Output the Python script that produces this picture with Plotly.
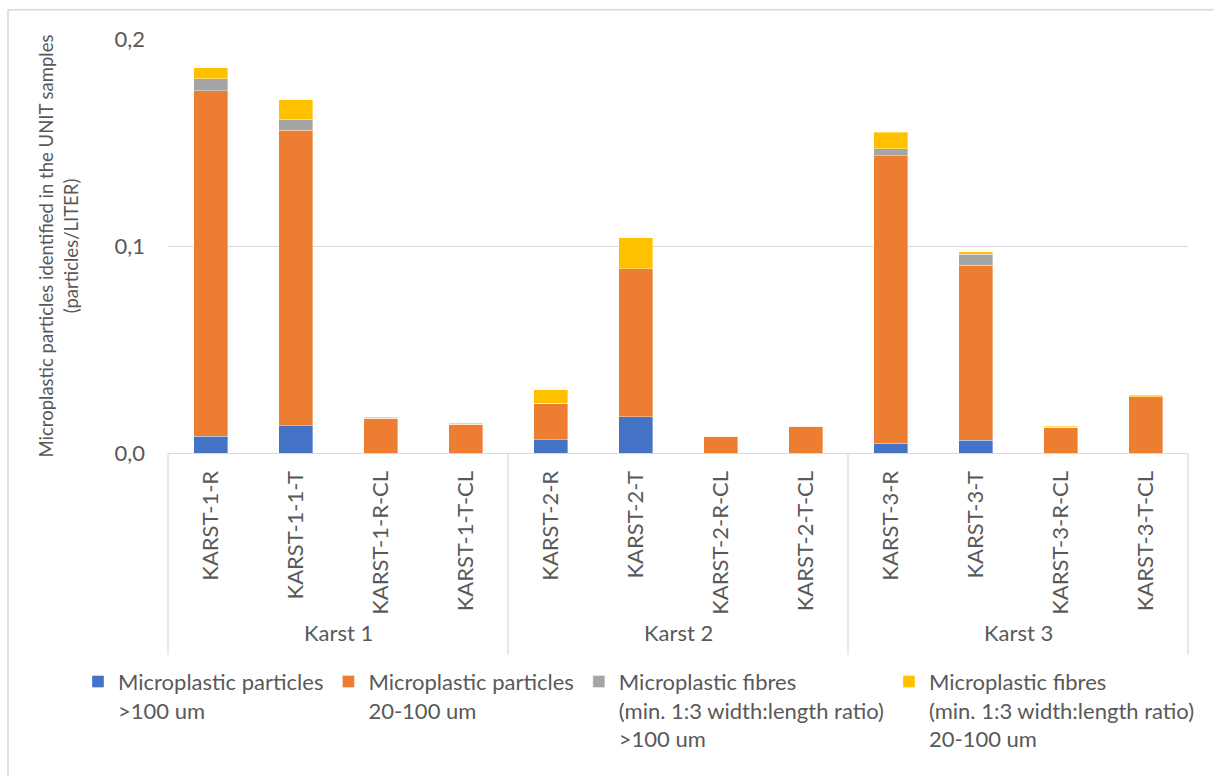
import plotly.graph_objects as go

# Sample groups and sample names
group_names = ["Karst 1", "Karst 2", "Karst 3"]
samples = [
    "KARST-1-R", "KARST-1-1-T", "KARST-1-R-CL", "KARST-1-T-CL",
    "KARST-2-R", "KARST-2-T", "KARST-2-R-CL", "KARST-2-T-CL",
    "KARST-3-R", "KARST-3-T", "KARST-3-R-CL", "KARST-3-T-CL",
]

# Concentrations (particles/LITER)
particles_gt100 = [0.0080, 0.0132, 0.0, 0.0, 0.0063, 0.0174, 0.0, 0.0, 0.0046, 0.0061, 0.0, 0.0]
particles_20_100 = [0.1669, 0.1427, 0.0169, 0.0140, 0.0177, 0.0716, 0.0082, 0.0130, 0.1391, 0.0845, 0.0124, 0.0272]
fibres_gt100 = [0.0059, 0.0053, 0.0, 0.0, 0.0, 0.0, 0.0, 0.0, 0.0034, 0.0053, 0.0, 0.0]
fibres_20_100 = [0.0052, 0.0094, 0.0004, 0.0003, 0.0066, 0.0150, 0.0, 0.0, 0.0079, 0.0013, 0.0005, 0.0006]

series = [
    ("Microplastic particles<br>>100 um", particles_gt100, "#4472C4"),
    ("Microplastic particles<br>20-100 um", particles_20_100, "#ED7D31"),
    ("Microplastic fibres<br>(min. 1:3 width:length ratio)<br>>100 um", fibres_gt100, "#A5A5A5"),
    ("Microplastic fibres<br>(min. 1:3 width:length ratio)<br>20-100 um", fibres_20_100, "#FFC000"),
]

FONT = "Lato, Carlito, Calibri, sans-serif"
TXT = "#595959"
GRID = "#D9D9D9"
FS = 22

fig = go.Figure()
for name, vals, color in series:
    fig.add_trace(go.Bar(
        x=samples, y=vals, name=name,
        marker=dict(color=color, line=dict(color="rgba(255,255,255,0.6)", width=0.6)),
    ))

# pixel -> paper helpers for frame, dividers and group labels
L, R, T, B = 168, 1188, 39.3, 453.3
W, H = R - L, B - T
px = lambda x: (x - L) / W
py = lambda y: (B - y) / H

n_groups = len(group_names)
shapes = []
annotations = []
# group dividers below the category axis
for i in range(n_groups + 1):
    xp = i / n_groups
    shapes.append(dict(type="line", xref="paper", yref="paper", x0=xp, x1=xp,
                       y0=py(454), y1=py(655), line=dict(color=GRID, width=1.2)))
# group labels
for i, g in enumerate(group_names):
    annotations.append(dict(text=g, xref="paper", yref="paper", x=(i + 0.5) / n_groups,
                            y=py(633), xanchor="center", yanchor="middle", showarrow=False,
                            font=dict(size=FS, color=TXT)))
# outer chart frame
shapes += [
    dict(type="line", xref="paper", yref="paper", x0=px(8), x1=px(1214), y0=py(10), y1=py(10),
         line=dict(color=GRID, width=1.5)),
    dict(type="line", xref="paper", yref="paper", x0=px(8), x1=px(8), y0=py(10), y1=py(776),
         line=dict(color=GRID, width=1.5)),
]

fig.update_layout(
    barmode="stack",
    bargap=0.6,
    width=1214, height=776,
    margin=dict(l=L, r=1214 - R, t=T, b=776 - B, autoexpand=False),
    paper_bgcolor="white", plot_bgcolor="white",
    font=dict(family=FONT, size=FS, color=TXT),
    showlegend=True,
    legend=dict(
        orientation="h", x=px(78), xanchor="left", y=py(661), yanchor="top",
        font=dict(size=FS, color=TXT), valign="top",
        traceorder="normal", itemwidth=30, tracegroupgap=0,
    ),
    xaxis=dict(
        type="category", tickangle=-90, showline=True, linecolor=GRID,
        linewidth=1.2, showgrid=False, ticks="", ticklabelstandoff=8,
        tickfont=dict(size=FS, color=TXT), range=[-0.5, len(samples) - 0.5],
    ),
    yaxis=dict(
        range=[0, 0.2], tickvals=[0, 0.1, 0.2], ticktext=["0,0", "0,1", "0,2"],
        showgrid=True, gridcolor=GRID, gridwidth=1.2, zeroline=False,
        showline=False, ticks="", ticklabelstandoff=22,
        tickfont=dict(size=FS, color=TXT),
        title=dict(
            text="Microplastic particles identified in the UNIT samples<br>(particles/LITER)",
            font=dict(size=18.5, color=TXT), standoff=31,
        ),
    ),
    shapes=shapes,
    annotations=annotations,
)

fig.write_html("out.html")
